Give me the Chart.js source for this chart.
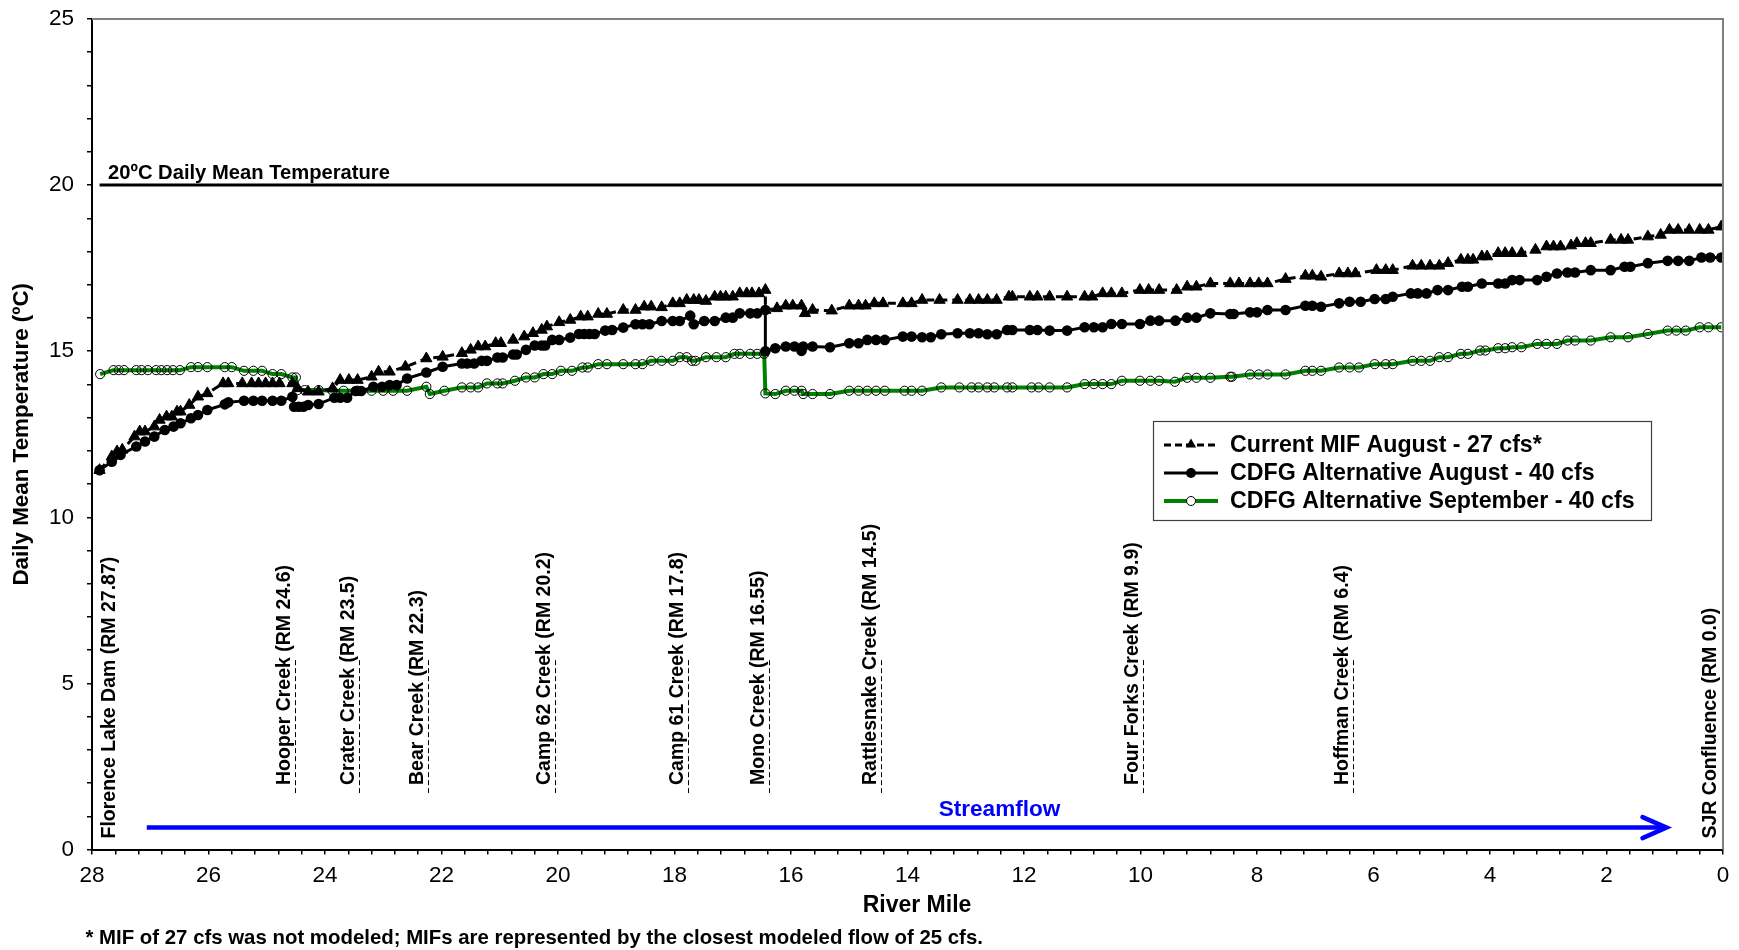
<!DOCTYPE html>
<html><head><meta charset="utf-8">
<script src="https://cdn.jsdelivr.net/npm/chart.js@4.4.1/dist/chart.umd.min.js"></script>
<style>html,body{margin:0;padding:0;background:#fff;}#wrap{width:1739px;height:950px;position:relative;}</style>
</head><body><div id="wrap"><canvas id="c" width="1739" height="950"></canvas></div>
<script>
// ---------------- DATA ----------------
const mifMiles = [27.87,27.66,27.57,27.48,27.27,27.18,27.09,26.93,26.84,26.72,26.63,26.54,26.48,26.33,26.18,26.02,25.75,25.66,25.42,25.26,25.14,25.02,24.90,24.78,24.56,24.47,24.29,24.11,23.87,23.74,23.59,23.44,23.20,23.08,22.89,22.62,22.26,21.98,21.65,21.50,21.37,21.25,21.07,20.98,20.77,20.58,20.43,20.28,20.19,19.98,19.79,19.61,19.49,19.31,19.16,18.88,18.67,18.52,18.40,18.22,18.03,17.91,17.79,17.67,17.58,17.46,17.31,17.21,17.12,17.00,16.88,16.76,16.67,16.55,16.44,16.44,16.24,16.09,15.97,15.82,15.76,15.63,15.30,15.00,14.84,14.72,14.57,14.42,14.08,13.93,13.75,13.45,13.14,12.93,12.78,12.63,12.47,12.26,12.20,11.90,11.77,11.56,11.26,10.96,10.83,10.65,10.50,10.32,10.01,9.86,9.68,9.38,9.20,9.04,8.80,8.46,8.31,8.12,7.97,7.82,7.51,7.17,7.05,6.90,6.59,6.44,6.31,5.95,5.79,5.67,5.33,5.18,5.03,4.87,4.72,4.50,4.38,4.29,4.14,4.05,3.86,3.74,3.62,3.46,3.22,3.03,2.91,2.79,2.61,2.51,2.36,2.27,1.93,1.75,1.63,1.29,1.07,0.92,0.77,0.58,0.40,0.25,0.03];
const mifTemps = [11.42,11.83,11.98,12.03,12.43,12.58,12.58,12.73,12.93,13.03,13.03,13.18,13.18,13.38,13.63,13.73,14.03,14.03,14.03,14.03,14.03,14.03,14.03,14.03,14.03,13.88,13.78,13.78,13.88,14.13,14.13,14.13,14.23,14.38,14.38,14.53,14.78,14.83,14.94,15.04,15.14,15.14,15.24,15.24,15.34,15.44,15.54,15.64,15.74,15.87,15.94,16.04,16.04,16.12,16.12,16.24,16.24,16.34,16.34,16.32,16.44,16.44,16.54,16.54,16.54,16.51,16.64,16.64,16.64,16.64,16.74,16.74,16.74,16.74,16.84,16.24,16.29,16.37,16.37,16.37,16.14,16.24,16.22,16.37,16.37,16.37,16.44,16.44,16.44,16.44,16.54,16.54,16.54,16.54,16.54,16.54,16.54,16.64,16.64,16.64,16.64,16.64,16.64,16.64,16.64,16.74,16.74,16.74,16.84,16.84,16.84,16.84,16.94,16.94,17.04,17.04,17.04,17.04,17.04,17.04,17.17,17.27,17.27,17.24,17.34,17.34,17.34,17.44,17.44,17.44,17.57,17.57,17.57,17.57,17.65,17.75,17.75,17.75,17.85,17.85,17.95,17.95,17.95,17.95,18.05,18.15,18.15,18.15,18.18,18.25,18.25,18.25,18.35,18.35,18.35,18.45,18.50,18.65,18.65,18.65,18.65,18.65,18.75];

const augMiles = [27.87,27.66,27.51,27.24,27.09,26.93,26.75,26.60,26.48,26.30,26.18,26.02,25.72,25.66,25.39,25.23,25.08,24.90,24.75,24.56,24.53,24.45,24.37,24.29,24.11,23.84,23.74,23.62,23.47,23.38,23.17,23.02,22.89,22.77,22.59,22.26,21.98,21.65,21.56,21.44,21.31,21.22,21.04,20.95,20.77,20.71,20.55,20.40,20.28,20.22,20.10,19.98,19.79,19.64,19.55,19.46,19.37,19.19,19.07,18.88,18.67,18.55,18.43,18.22,18.03,17.91,17.73,17.67,17.49,17.31,17.12,17.00,16.88,16.70,16.58,16.44,16.44,16.27,16.09,15.94,15.82,15.79,15.63,15.33,15.00,14.84,14.69,14.54,14.39,14.08,13.93,13.75,13.60,13.42,13.14,12.93,12.78,12.63,12.47,12.29,12.20,11.90,11.77,11.56,11.26,10.96,10.80,10.65,10.50,10.32,10.01,9.83,9.68,9.40,9.20,9.04,8.80,8.46,8.40,8.12,8.00,7.82,7.51,7.17,7.05,6.90,6.59,6.41,6.22,5.98,5.79,5.67,5.36,5.24,5.09,4.90,4.72,4.48,4.38,4.14,3.86,3.74,3.62,3.49,3.19,3.03,2.85,2.67,2.54,2.27,1.93,1.69,1.59,1.29,0.95,0.77,0.58,0.37,0.22,0.03];
const augTemps = [11.42,11.67,11.88,12.13,12.28,12.43,12.63,12.73,12.83,12.98,13.08,13.23,13.40,13.46,13.51,13.51,13.51,13.51,13.51,13.63,13.33,13.33,13.33,13.38,13.41,13.60,13.60,13.60,13.80,13.80,13.93,13.93,13.98,13.98,14.18,14.36,14.53,14.63,14.63,14.63,14.71,14.71,14.81,14.81,14.90,14.90,15.04,15.17,15.17,15.17,15.34,15.34,15.41,15.52,15.52,15.52,15.52,15.62,15.64,15.71,15.81,15.81,15.81,15.91,15.91,15.91,16.07,15.81,15.91,15.91,16.01,16.01,16.14,16.14,16.14,16.24,15.00,15.09,15.14,15.14,15.01,15.14,15.14,15.12,15.24,15.24,15.34,15.34,15.34,15.44,15.44,15.42,15.42,15.51,15.54,15.54,15.54,15.51,15.51,15.64,15.64,15.64,15.64,15.62,15.62,15.72,15.72,15.72,15.82,15.82,15.82,15.92,15.92,15.92,16.01,16.01,16.14,16.12,16.12,16.17,16.17,16.24,16.24,16.37,16.37,16.34,16.44,16.49,16.49,16.57,16.57,16.64,16.74,16.74,16.74,16.84,16.84,16.94,16.94,17.04,17.04,17.04,17.14,17.14,17.14,17.24,17.34,17.37,17.37,17.44,17.44,17.54,17.54,17.65,17.72,17.72,17.72,17.82,17.82,17.82];

const sepMiles = [27.86,27.63,27.54,27.45,27.24,27.15,27.04,26.90,26.81,26.71,26.61,26.49,26.30,26.18,26.02,25.72,25.60,25.39,25.23,25.08,24.90,24.75,24.56,24.50,24.47,24.35,24.11,23.87,23.68,23.44,23.20,23.00,22.83,22.59,22.26,22.20,21.95,21.65,21.50,21.37,21.22,21.04,20.95,20.74,20.55,20.40,20.25,20.10,19.95,19.76,19.58,19.49,19.31,19.16,18.88,18.67,18.55,18.40,18.22,18.03,17.91,17.79,17.70,17.64,17.46,17.28,17.12,16.97,16.88,16.70,16.58,16.46,16.44,16.27,16.09,15.94,15.82,15.79,15.63,15.33,15.00,14.84,14.69,14.54,14.39,14.05,13.93,13.75,13.42,13.11,12.90,12.78,12.63,12.51,12.29,12.20,11.87,11.75,11.56,11.26,10.96,10.80,10.65,10.50,10.32,10.01,9.83,9.68,9.41,9.20,9.04,8.80,8.46,8.43,8.12,7.97,7.82,7.51,7.17,7.05,6.90,6.59,6.41,6.25,5.98,5.79,5.67,5.33,5.18,5.03,4.87,4.72,4.50,4.38,4.17,4.08,3.86,3.74,3.62,3.46,3.19,3.03,2.85,2.67,2.54,2.27,1.93,1.63,1.29,0.95,0.80,0.64,0.40,0.25,0.03];
const sepTemps = [14.31,14.43,14.43,14.43,14.43,14.43,14.43,14.43,14.43,14.43,14.43,14.43,14.52,14.52,14.52,14.52,14.52,14.41,14.41,14.41,14.31,14.31,14.21,14.21,13.83,13.83,13.83,13.81,13.81,13.81,13.81,13.81,13.81,13.81,13.93,13.71,13.81,13.91,13.91,13.91,14.03,14.03,14.03,14.11,14.21,14.21,14.31,14.31,14.41,14.41,14.51,14.51,14.61,14.61,14.61,14.61,14.61,14.71,14.71,14.71,14.82,14.82,14.71,14.71,14.82,14.82,14.82,14.92,14.92,14.92,14.92,14.92,13.73,13.71,13.81,13.81,13.81,13.71,13.71,13.71,13.81,13.81,13.81,13.81,13.81,13.81,13.81,13.81,13.91,13.91,13.91,13.91,13.91,13.91,13.91,13.91,13.91,13.91,13.91,13.91,14.01,14.01,14.01,14.01,14.11,14.11,14.11,14.11,14.08,14.20,14.20,14.20,14.23,14.23,14.30,14.30,14.30,14.30,14.41,14.41,14.41,14.51,14.51,14.51,14.61,14.61,14.61,14.71,14.71,14.71,14.82,14.82,14.92,14.92,15.02,15.02,15.09,15.09,15.12,15.12,15.22,15.22,15.22,15.32,15.32,15.32,15.42,15.42,15.52,15.62,15.62,15.62,15.72,15.72,15.72];

const seriesNames = ['Current MIF August - 27 cfs*', 'CDFG Alternative August - 40 cfs', 'CDFG Alternative September - 40 cfs'];

const thresholdMiles = [27.87, 0];
const thresholdTemps = [20, 20];
const thresholdLabel = '20ºC Daily Mean Temperature';

const streamMiles = [27.06, 0.97];
const streamTemps = [0.66, 0.66];
const streamLabel = 'Streamflow';
const streamLabelMile = 12.42;
const streamLabelTemp = 1.19;

const creekNames = ['Florence Lake Dam (RM 27.87)','Hooper Creek (RM 24.6)','Crater Creek (RM 23.5)','Bear Creek (RM 22.3)','Camp 62 Creek (RM 20.2)','Camp 61 Creek (RM 17.8)','Mono Creek (RM 16.55)','Rattlesnake Creek (RM 14.5)','Four Forks Creek (RM 9.9)','Hoffman Creek (RM 6.4)','SJR Confluence (RM 0.0)'];
const creekMiles = [27.87, 24.52, 23.42, 22.24, 20.05, 17.77, 16.38, 14.45, 9.96, 6.36, 0.0];
const creekLineTemps = [1.7, 5.7];

const xTickValues = []; for (let i = 0; i <= 70; i++) xTickValues.push(Math.round(i * 4) / 10);
const yTickValues = []; for (let i = 0; i <= 25; i++) yTickValues.push(i);
const xLabelEvery = 2, yLabelEvery = 5;

const xTitle = 'River Mile';
const yTitle = 'Daily Mean Temperature (ºC)';
const footnote = '* MIF of 27 cfs was not modeled; MIFs are represented by the closest modeled flow of 25 cfs.';

// ---------------- CHART ----------------
const FONT = '"Liberation Sans", Arial, Helvetica, sans-serif';
const GREEN = '#008000', BLUE = '#0000ff';
const pts = (xs, ys) => xs.map((m, i) => ({x: m, y: ys[i]}));

function drawTri(ctx, x, y, r) {
  ctx.beginPath();
  ctx.moveTo(x, y - r);
  ctx.lineTo(x + r * 0.866, y + r * 0.5);
  ctx.lineTo(x - r * 0.866, y + r * 0.5);
  ctx.closePath(); ctx.fill();
}

const annot = {
  id: 'annot',
  afterDatasetsDraw(chart) {
    const {ctx, chartArea: a, scales: {x, y}} = chart;
    ctx.save();
    // frame top/right
    ctx.strokeStyle = '#808080'; ctx.lineWidth = 2; ctx.setLineDash([]);
    ctx.beginPath(); ctx.moveTo(a.left, a.top); ctx.lineTo(a.right, a.top); ctx.lineTo(a.right, a.bottom); ctx.stroke();

    // threshold label
    ctx.fillStyle = '#000'; ctx.textAlign = 'left'; ctx.textBaseline = 'alphabetic';
    ctx.font = `bold 20.2px ${FONT}`;
    ctx.fillText(thresholdLabel, x.getPixelForValue(thresholdMiles[0]) + 8.5, y.getPixelForValue(thresholdTemps[0]) - 6.5);

    // creek labels + dashed lines
    ctx.font = `bold 19.5px ${FONT}`;
    creekMiles.forEach((m, i) => {
      const px = x.getPixelForValue(m);
      const first = i === 0, last = i === creekMiles.length - 1;
      if (!first && !last) {
        ctx.save();
        ctx.strokeStyle = '#000'; ctx.lineWidth = 1; ctx.setLineDash([5, 3]);
        ctx.beginPath();
        ctx.moveTo(Math.round(px) + 0.5, y.getPixelForValue(creekLineTemps[1]));
        ctx.lineTo(Math.round(px) + 0.5, y.getPixelForValue(creekLineTemps[0]));
        ctx.stroke();
        ctx.restore();
      }
      const bx = first ? px + 15.5 : (last ? px - 7 : px - 5);
      const by = (first || last) ? a.bottom - 11 : a.bottom - 64.5;
      ctx.save();
      ctx.translate(bx, by); ctx.rotate(-Math.PI / 2);
      ctx.textAlign = 'left'; ctx.textBaseline = 'alphabetic'; ctx.fillStyle = '#000';
      ctx.fillText(creekNames[i], 0, 0);
      ctx.restore();
    });

    // streamflow arrowhead + label
    const ex = x.getPixelForValue(streamMiles[1]), ey = y.getPixelForValue(streamTemps[1]);
    ctx.strokeStyle = BLUE; ctx.lineWidth = 4.5; ctx.lineCap = 'round'; ctx.lineJoin = 'miter';
    ctx.beginPath(); ctx.moveTo(ex - 24, ey - 10.5); ctx.lineTo(ex, ey); ctx.lineTo(ex - 24, ey + 10.5); ctx.stroke();
    ctx.lineCap = 'butt';
    ctx.fillStyle = BLUE; ctx.font = `bold 22.6px ${FONT}`; ctx.textAlign = 'center'; ctx.textBaseline = 'middle';
    ctx.fillText(streamLabel, x.getPixelForValue(streamLabelMile), y.getPixelForValue(streamLabelTemp));

    // legend
    const L = 1153.5, T = 421.5, W = 498, H = 99;
    ctx.fillStyle = '#fff'; ctx.fillRect(L, T, W, H);
    ctx.strokeStyle = '#404040'; ctx.lineWidth = 1.2; ctx.strokeRect(L, T, W, H);
    const rows = [445, 473, 501];
    const sx0 = 1164, sx1 = 1218, sxm = 1191;
    ctx.strokeStyle = '#000'; ctx.lineWidth = 3; ctx.setLineDash([7, 4]);
    ctx.beginPath(); ctx.moveTo(sx0, rows[0]); ctx.lineTo(sx1, rows[0]); ctx.stroke();
    ctx.setLineDash([]);
    ctx.fillStyle = '#000'; drawTri(ctx, sxm, rows[0] - 0.5, 6);
    ctx.lineWidth = 3;
    ctx.beginPath(); ctx.moveTo(sx0, rows[1]); ctx.lineTo(sx1, rows[1]); ctx.stroke();
    ctx.beginPath(); ctx.arc(sxm, rows[1], 5, 0, Math.PI * 2); ctx.fill();
    ctx.strokeStyle = GREEN; ctx.lineWidth = 4;
    ctx.beginPath(); ctx.moveTo(sx0, rows[2]); ctx.lineTo(sx1, rows[2]); ctx.stroke();
    ctx.fillStyle = '#fff'; ctx.strokeStyle = '#000'; ctx.lineWidth = 1;
    ctx.beginPath(); ctx.arc(sxm, rows[2], 4.5, 0, Math.PI * 2); ctx.fill(); ctx.stroke();
    ctx.fillStyle = '#000'; ctx.font = `bold 23.2px ${FONT}`; ctx.textAlign = 'left'; ctx.textBaseline = 'middle';
    seriesNames.forEach((n, i) => ctx.fillText(n, 1230, rows[i] + 1));

    // x-axis title
    ctx.font = `bold 23px ${FONT}`; ctx.textAlign = 'center'; ctx.textBaseline = 'middle';
    ctx.fillText(xTitle, 917, 906);

    // footnote
    ctx.font = `bold 20.4px ${FONT}`; ctx.textBaseline = 'middle'; ctx.textAlign = 'left';
    ctx.fillText(footnote, 85.5, 938);
    ctx.restore();
  }
};

const ctx = document.getElementById('c').getContext('2d');
new Chart(ctx, {
  type: 'line',
  data: {
    datasets: [
      { label: seriesNames[0], data: pts(mifMiles, mifTemps), borderColor: '#000', borderWidth: 3, borderDash: [8, 5],
        pointStyle: 'triangle', pointRadius: 6.5, pointBackgroundColor: '#000', pointBorderColor: '#000', pointBorderWidth: 1, tension: 0 },
      { label: seriesNames[1], data: pts(augMiles, augTemps), borderColor: '#000', borderWidth: 3,
        pointStyle: 'circle', pointRadius: 5.3, pointBackgroundColor: '#000', pointBorderColor: '#000', pointBorderWidth: 0, tension: 0 },
      { label: seriesNames[2], data: pts(sepMiles, sepTemps), borderColor: GREEN, borderWidth: 4,
        pointStyle: 'circle', pointRadius: 4.6, pointBackgroundColor: 'rgba(0,0,0,0)', pointBorderColor: '#000', pointBorderWidth: 1, tension: 0 },
      { label: 'threshold', data: pts(thresholdMiles, thresholdTemps), borderColor: '#000', borderWidth: 3, pointRadius: 0, tension: 0 },
      { label: 'streamflow', data: pts(streamMiles, streamTemps), borderColor: BLUE, borderWidth: 4.5, pointRadius: 0, tension: 0 }
    ]
  },
  options: {
    responsive: false, animation: false, devicePixelRatio: 1,
    layout: { padding: { top: 19, right: 16, left: 0, bottom: 0 } },
    plugins: { legend: { display: false }, tooltip: { enabled: false } },
    scales: {
      x: {
        type: 'linear', reverse: true, min: 0, max: 28, position: 'bottom',
        afterBuildTicks: s => { s.ticks = xTickValues.map(v => ({value: v})); },
        afterFit: s => { s.height = 100.5; s.paddingLeft = 0; s.paddingRight = 0; },
        grid: { drawOnChartArea: false, drawTicks: true, tickLength: 5, color: '#000', lineWidth: 1.5 },
        border: { display: true, color: '#000', width: 2 },
        ticks: { autoSkip: false, maxRotation: 0, padding: 8, color: '#000', font: { family: FONT, size: 22.5 },
          callback: v => (Math.abs(v / xLabelEvery - Math.round(v / xLabelEvery)) < 1e-6 ? String(Math.round(v)) : '') },
        title: { display: false }
      },
      y: {
        type: 'linear', min: 0, max: 25,
        afterBuildTicks: s => { s.ticks = yTickValues.map(v => ({value: v})); },
        afterFit: s => { s.width = 92; s.paddingTop = 0; s.paddingBottom = 0; },
        grid: { drawOnChartArea: false, drawTicks: true, tickLength: 5, color: '#000', lineWidth: 1.5 },
        border: { display: true, color: '#000', width: 2 },
        ticks: { autoSkip: false, padding: 13, color: '#000', font: { family: FONT, size: 22.5 },
          callback: v => (Math.abs(v / yLabelEvery - Math.round(v / yLabelEvery)) < 1e-6 ? String(Math.round(v)) : '') },
        title: { display: true, text: yTitle, color: '#000', font: { family: FONT, size: 22.4, weight: 'bold' }, padding: { top: 8.6, bottom: 0 } }
      }
    }
  },
  plugins: [annot]
});
</script></body></html>
